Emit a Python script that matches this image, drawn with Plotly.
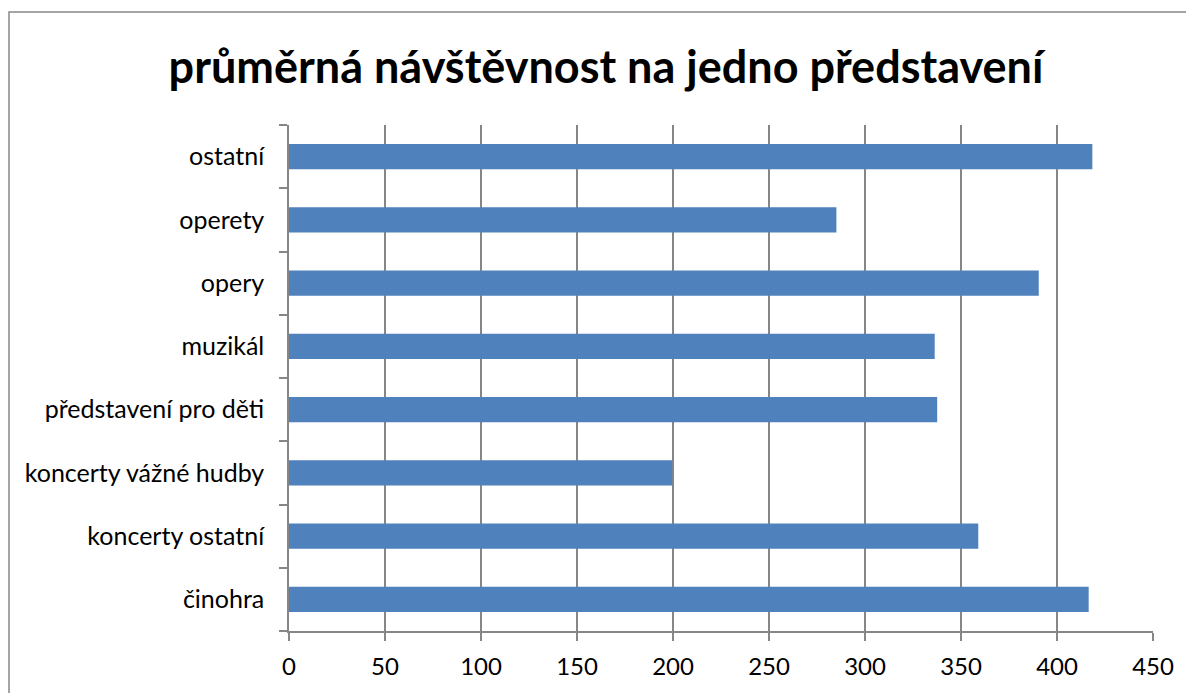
import plotly.graph_objects as go

categories = ["činohra", "koncerty ostatní", "koncerty vážné hudby",
              "představení pro děti", "muzikál", "opery", "operety", "ostatní"]
values = [416.5, 359, 199.6, 337.6, 336.3, 390.5, 285.1, 418.4]
x_ticks = [0, 50, 100, 150, 200, 250, 300, 350, 400, 450]
title_text = "průměrná návštěvnost na jedno představení"

OFF = 8  # page body margin
L, R, T, B = 289 - OFF, 1153 - OFF, 125 - OFF, 631 - OFF
W, H = 1194 - OFF, 693 - OFF
pw, ph = R - L, B - T

fig = go.Figure(go.Bar(
    y=categories, x=values, orientation="h",
    marker=dict(color="#4F81BD", line=dict(width=0)),
    width=0.4,
))

grid_col = "#868686"
fig.update_layout(
    width=W, height=H,
    margin=dict(l=L, r=W - R, t=T, b=H - B),
    paper_bgcolor="white", plot_bgcolor="white",
    showlegend=False,
    font=dict(family="Lato, Open Sans, sans-serif", color="black"),
    title=dict(text="<b>" + title_text + "</b>", x=(606 - OFF) / W, xanchor="center",
               y=1 - (67 - OFF) / H, yanchor="middle",
               font=dict(size=45, family="Lato, sans-serif", color="black")),
    xaxis=dict(range=[0, 450], tickvals=x_ticks, showgrid=True, gridcolor=grid_col,
               gridwidth=1.5, zeroline=False, showline=True, linecolor=grid_col,
               linewidth=1.5, ticks="outside", ticklen=8, tickcolor=grid_col,
               tickwidth=1.5, tickfont=dict(size=24, color="black"),
               ticklabelstandoff=5, fixedrange=True),
    yaxis=dict(type="category", categoryorder="array", categoryarray=categories,
               showgrid=False, zeroline=False, showline=True, linecolor=grid_col,
               linewidth=1.5, ticks="outside", tickson="boundaries", ticklen=8,
               tickcolor=grid_col, tickwidth=1.5,
               tickfont=dict(size=25, color="black"), ticklabelstandoff=18,
               range=[-0.5, 7.5], fixedrange=True),
    shapes=[dict(type="rect", xref="paper", yref="paper",
                 x0=(9 - OFF - L) / pw, x1=(1190 - OFF - L) / pw,
                 y0=(B - 720) / ph, y1=(B - (12 - OFF)) / ph,
                 line=dict(color="#888888", width=1.5), fillcolor="rgba(0,0,0,0)",
                 layer="below")],
)

fig.write_html("out.html")
